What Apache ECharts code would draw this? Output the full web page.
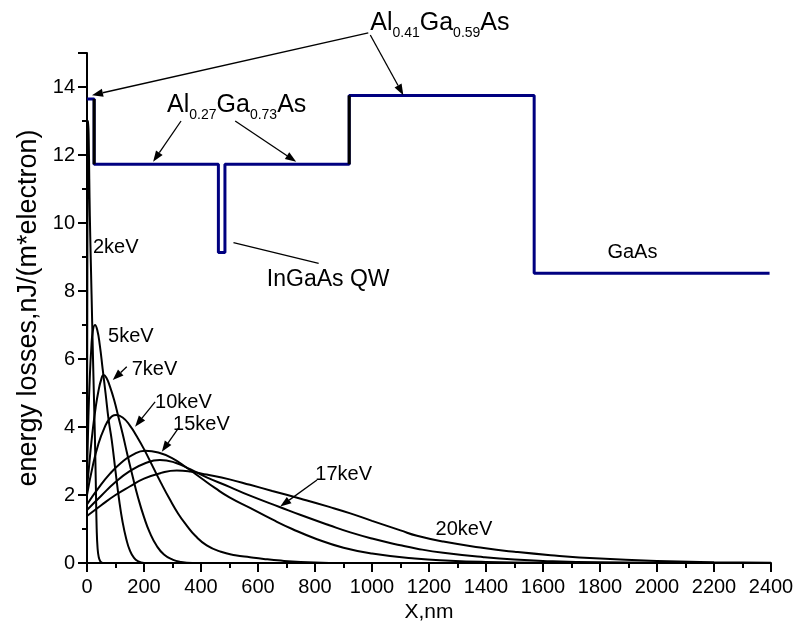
<!DOCTYPE html>
<html><head><meta charset="utf-8">
<script src="https://cdn.jsdelivr.net/npm/echarts@6/dist/echarts.min.js"></script>
<style>html,body{margin:0;padding:0;background:#fff}#c{width:797px;height:639px}</style>
</head><body><div id="c"></div>
<script>
const FONT = 'Liberation Sans, Arial, sans-serif';
// band profile
const bandX = [0, 25, 25, 461, 461, 484, 484, 920, 920, 1569, 1569, 2395];
const bandY = [13.65, 13.65, 11.73, 11.73, 9.13, 9.13, 11.73, 11.73, 13.75, 13.75, 8.52, 8.52];
// black steps
const stepAX = [25, 25], stepAY = [13.65, 11.73];
const stepBX = [920, 920], stepBY = [11.73, 13.75];

const e2X = [0,1,2,3,4,6,8,10,13,16,20,24,28,31,34,37,41,46,52,58];
const e2Y = [3,7.5,11,12.7,13,12.5,11.3,10.2,9,7.9,6.4,5.0,3.6,2.3,1.0,0.45,0.18,0.06,0.01,0];
const e5X = [0,5,10,15,20,28,36,45,55,65,76,87,100,112,125,138,150,165,180,200];
const e5Y = [2.6,4.3,5.5,6.3,6.8,7.0,6.85,6.4,5.7,5.0,4.2,3.6,2.7,1.9,1.2,0.7,0.38,0.15,0.05,0];
const e7X = [0,10,20,30,40,50,58,68,80,95,110,125,140,160,180,200,220,245,270,300,330,370];
const e7Y = [2.2,3.1,3.9,4.55,5.05,5.4,5.53,5.45,5.2,4.8,4.3,3.8,3.25,2.55,1.9,1.35,0.9,0.5,0.25,0.1,0.03,0];
const e10X = [0,20,40,60,80,102,125,150,175,200,230,260,290,320,350,380,420,470,520,572,620,680,750,850];
const e10Y = [2.0,2.85,3.5,3.95,4.25,4.35,4.28,4.05,3.72,3.35,2.85,2.35,1.88,1.45,1.1,0.8,0.52,0.33,0.23,0.17,0.12,0.07,0.03,0];
const e15X = [0,40,80,120,160,204,250,300,350,400,450,500,572,650,720,807,900,1000,1150,1275,1400,1600];
const e15Y = [1.72,2.2,2.62,2.95,3.18,3.3,3.25,3.08,2.8,2.5,2.2,1.93,1.62,1.28,1.0,0.7,0.45,0.28,0.13,0.065,0.03,0.005];
const e17X = [0,50,100,150,200,256,310,362,420,500,572,678,750,850,924,1000,1100,1158,1250,1392,1500,1627,1800,2000];
const e17Y = [1.56,1.98,2.38,2.7,2.92,3.03,2.95,2.76,2.52,2.24,1.98,1.64,1.41,1.11,0.9,0.72,0.52,0.42,0.3,0.17,0.1,0.055,0.02,0.005];
const e20X = [0,50,100,150,200,260,315,362,420,500,572,650,750,850,924,1000,1100,1158,1250,1392,1500,1627,1800,2000,2200,2400];
const e20Y = [1.38,1.7,2.0,2.25,2.48,2.65,2.72,2.69,2.6,2.46,2.3,2.12,1.89,1.65,1.46,1.24,0.96,0.8,0.63,0.44,0.33,0.23,0.13,0.06,0.025,0.01];

const curves = [[e2X,e2Y],[e5X,e5Y],[e7X,e7Y],[e10X,e10Y],[e15X,e15Y],[e17X,e17Y],[e20X,e20Y]];
const zip = (xs, ys) => xs.map((x, i) => [x, ys[i]]);

const chart = echarts.init(document.getElementById('c'));
const series = [];
series.push({type:'line', data: zip(bandX, bandY), showSymbol:false, lineStyle:{color:'#000080', width:3}, z:2});
series.push({type:'line', data: zip(stepAX, stepAY), showSymbol:false, lineStyle:{color:'#000', width:3}, z:3});
series.push({type:'line', data: zip(stepBX, stepBY), showSymbol:false, lineStyle:{color:'#000', width:3}, z:3});
curves.forEach(c => series.push({type:'line', data: zip(c[0], c[1]), showSymbol:false, smooth:0.5,
  lineStyle:{color:'#000', width:2}, z:4}));

chart.setOption({
  animation:false,
  backgroundColor:'#fff',
  grid:{left:87, right:26, top:53, bottom:76},
  xAxis:{type:'value', min:0, max:2400, interval:200,
    name:'X,nm', nameLocation:'middle', nameGap:34,
    nameTextStyle:{fontFamily:FONT, fontSize:21, color:'#000'},
    axisLine:{show:true, onZero:false, lineStyle:{color:'#000', width:2}},
    axisTick:{show:true, length:9, lineStyle:{color:'#000', width:2}},
    minorTick:{show:true, splitNumber:2, length:5, lineStyle:{color:'#000', width:2}},
    axisLabel:{fontFamily:FONT, fontSize:20, color:'#000', margin:14, formatter: v => String(v)},
    splitLine:{show:false}},
  yAxis:{type:'value', min:0, max:15, interval:2,
    name:'energy losses,nJ/(m*electron)', nameLocation:'middle', nameGap:43,
    nameTextStyle:{fontFamily:FONT, fontSize:27, color:'#000'},
    axisLine:{show:true, lineStyle:{color:'#000', width:2}},
    axisTick:{show:true, length:9, lineStyle:{color:'#000', width:2}},
    minorTick:{show:true, splitNumber:2, length:5, lineStyle:{color:'#000', width:2}},
    axisLabel:{fontFamily:FONT, fontSize:20, color:'#000', margin:12, formatter: v => v > 14.5 ? '' : String(v)},
    splitLine:{show:false}},
  series
});

// annotations in data coordinates
const labels = [
  ['2keV', 21, 9.29], ['5keV', 73.8, 6.65], ['7keV', 157, 5.69], ['10keV', 239, 4.72],
  ['15keV', 302, 4.07], ['17keV', 801, 2.60], ['20keV', 1223, 0.99], ['GaAs', 1826, 9.13]
];
const qwLabel = ['InGaAs QW', 631, 8.32];
const arrows = [ // [x1,y1,x2,y2,head]
  [987, 15.59, 17.6, 13.76, 1], [994, 15.53, 1110, 13.76, 1],
  [139.5, 5.77, 90.3, 5.38, 1], [239, 4.74, 168.7, 4.01, 1],
  [320.8, 3.97, 262.5, 3.27, 1], [807, 2.44, 678, 1.66, 1],
  [514, 9.42, 812.8, 8.81, 0],
  [330, 13.0, 232, 11.8, 1], [520, 13.0, 734, 11.8, 1]
];
const alLabels = [
  [[['Al',0],['0.41',1],['Ga',0],['0.59',1],['As',0]], 994, 15.88],
  [[['Al',0],['0.27',1],['Ga',0],['0.73',1],['As',0]], 281, 13.47]
];

const P = (x, y) => chart.convertToPixel({gridIndex:0}, [x, y]);
const cv = document.createElement('canvas').getContext('2d');
const measure = (t, s) => { cv.font = s + 'px ' + FONT; return cv.measureText(t).width; };
const g = [];
labels.forEach(l => { const p = P(l[1], l[2]);
  g.push({type:'text', x:p[0], y:p[1], z:10, style:{text:l[0], fontFamily:FONT, fontSize:20, fill:'#000', verticalAlign:'middle', align:'left'}}); });
{ const p = P(qwLabel[1], qwLabel[2]);
  g.push({type:'text', x:p[0], y:p[1], z:10, style:{text:qwLabel[0], fontFamily:FONT, fontSize:23, fill:'#000', verticalAlign:'middle', align:'left'}}); }
arrows.forEach(a => { const p1 = P(a[0], a[1]), p2 = P(a[2], a[3]);
  const dx = p2[0]-p1[0], dy = p2[1]-p1[1], L = Math.hypot(dx, dy), ux = dx/L, uy = dy/L;
  const hl = a[4] ? 11 : 0, hw = 4;
  const bx = p2[0]-ux*hl, by = p2[1]-uy*hl;
  g.push({type:'line', z:10, shape:{x1:p1[0], y1:p1[1], x2:bx, y2:by}, style:{stroke:'#000', lineWidth:1.3}});
  if (a[4]) g.push({type:'polygon', z:10, shape:{points:[[p2[0],p2[1]],[bx-uy*hw,by+ux*hw],[bx+uy*hw,by-ux*hw]]}, style:{fill:'#000'}});
});
alLabels.forEach(l => { const p = P(l[1], l[2]); let x = p[0];
  l[0].forEach(([t, sub]) => { const s = sub ? 14 : 25;
    g.push({type:'text', x:x, y: sub ? p[1] + 10 : p[1], z:10, style:{text:t, fontFamily:FONT, fontSize:s, fill:'#000', verticalAlign:'middle', align:'left'}});
    x += measure(t, s); }); });
chart.setOption({graphic: g});
</script></body></html>
